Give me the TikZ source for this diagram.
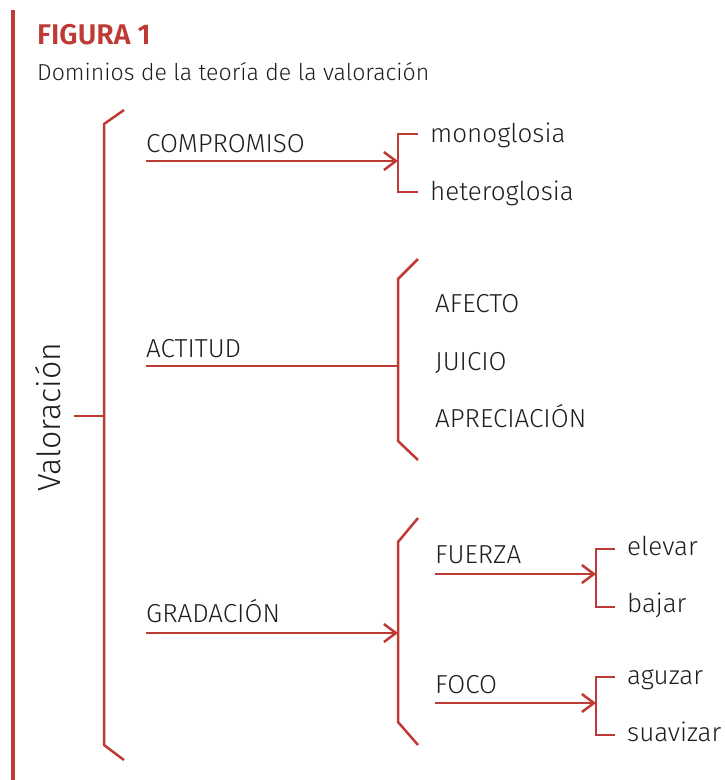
\documentclass[tikz,border=0pt]{standalone}
\usepackage{fontspec}
\setmainfont{Fira Sans Light}[BoldFont=Fira Sans SemiBold]
\usetikzlibrary{arrows.meta}
\definecolor{fred}{HTML}{BE3A34}
\definecolor{ftext}{HTML}{1E1E1E}
\begin{document}
\begin{tikzpicture}[x=1pt,y=-1pt,
  ln/.style={draw=fred,line width=2.5pt},
  arr/.style={ln,-{Straight Barb[length=12pt,width=18pt,line width=2.5pt]}},
  lbl/.style={anchor=base west,inner sep=0pt,text=ftext,font=\fontsize{26}{30}\selectfont},
  ]
\useasboundingbox (0,0) rectangle (724,780);
\fill[fred] (11,10) rectangle (15,780);
\node[anchor=base west,inner sep=0pt,text=fred,font=\fontsize{28.5}{32}\selectfont\bfseries] (fig) at (37,44) {FIGURA 1};
\node[lbl,font=\fontsize{23.1}{27}\selectfont] (sub) at (37,80) {Dominios de la teoría de la valoración};
% main bracket
\coordinate (mbt) at (124,110);
\coordinate (mbtc) at (104,124);
\coordinate (mbbc) at (104,745);
\coordinate (mbb) at (124,760);
\coordinate (mbm) at (104,416);
\coordinate (stub) at (74,416);
\draw[ln] (mbt) -- (mbtc) -- (mbbc) -- (mbb);
\draw[ln] (stub) -- (mbm);
\node[rotate=90,inner sep=0pt,text=ftext,font=\fontsize{32}{36}\selectfont] (val) at (48,417) {Valoración};
% COMPROMISO
\node[lbl] (comp) at (146,152) {COMPROMISO};
\coordinate (c1s) at (146,161);
\coordinate (c1e) at (398,161);
\draw[arr] (c1s) -- (c1e);
\coordinate (b1t) at (418,134);
\coordinate (b1b) at (418,192);
\draw[ln] (b1t) -- (398,134) -- (398,192) -- (b1b);
\node[lbl] (mono) at (430,142) {monoglosia};
\node[lbl] (hetero) at (430,200) {heteroglosia};
% ACTITUD
\node[lbl] (act) at (146,357) {ACTITUD};
\coordinate (c2s) at (146,366);
\coordinate (c2e) at (398,366);
\draw[ln] (c2s) -- (c2e);
\coordinate (b2t) at (418,259);
\coordinate (b2b) at (418,460);
\draw[ln] (b2t) -- (398,279) -- (398,441) -- (b2b);
\node[lbl] (afe) at (435,312) {AFECTO};
\node[lbl] (jui) at (435,370) {JUICIO};
\node[lbl] (apr) at (435,427) {APRECIACIÓN};
% GRADACION
\node[lbl] (grad) at (146,622) {GRADACIÓN};
\coordinate (c3s) at (146,633);
\coordinate (c3e) at (398,633);
\draw[arr] (c3s) -- (c3e);
\coordinate (b3t) at (418,518);
\coordinate (b3b) at (418,745);
\draw[ln] (b3t) -- (398,542) -- (398,722) -- (b3b);
% FUERZA
\node[lbl] (fue) at (435,563) {FUERZA};
\coordinate (c4s) at (435,574);
\coordinate (c4e) at (596,574);
\draw[arr] (c4s) -- (c4e);
\coordinate (b4t) at (615,549);
\coordinate (b4b) at (615,607);
\draw[ln] (b4t) -- (596,549) -- (596,607) -- (b4b);
\node[lbl] (ele) at (627,555) {elevar};
\node[lbl] (baj) at (627,612) {bajar};
% FOCO
\node[lbl] (foc) at (435,693) {FOCO};
\coordinate (c5s) at (435,703);
\coordinate (c5e) at (596,703);
\draw[arr] (c5s) -- (c5e);
\coordinate (b5t) at (615,677);
\coordinate (b5b) at (615,735);
\draw[ln] (b5t) -- (596,677) -- (596,735) -- (b5b);
\node[lbl] (agu) at (627,684) {aguzar};
\node[lbl] (sua) at (627,741) {suavizar};
\end{tikzpicture}
\end{document}
